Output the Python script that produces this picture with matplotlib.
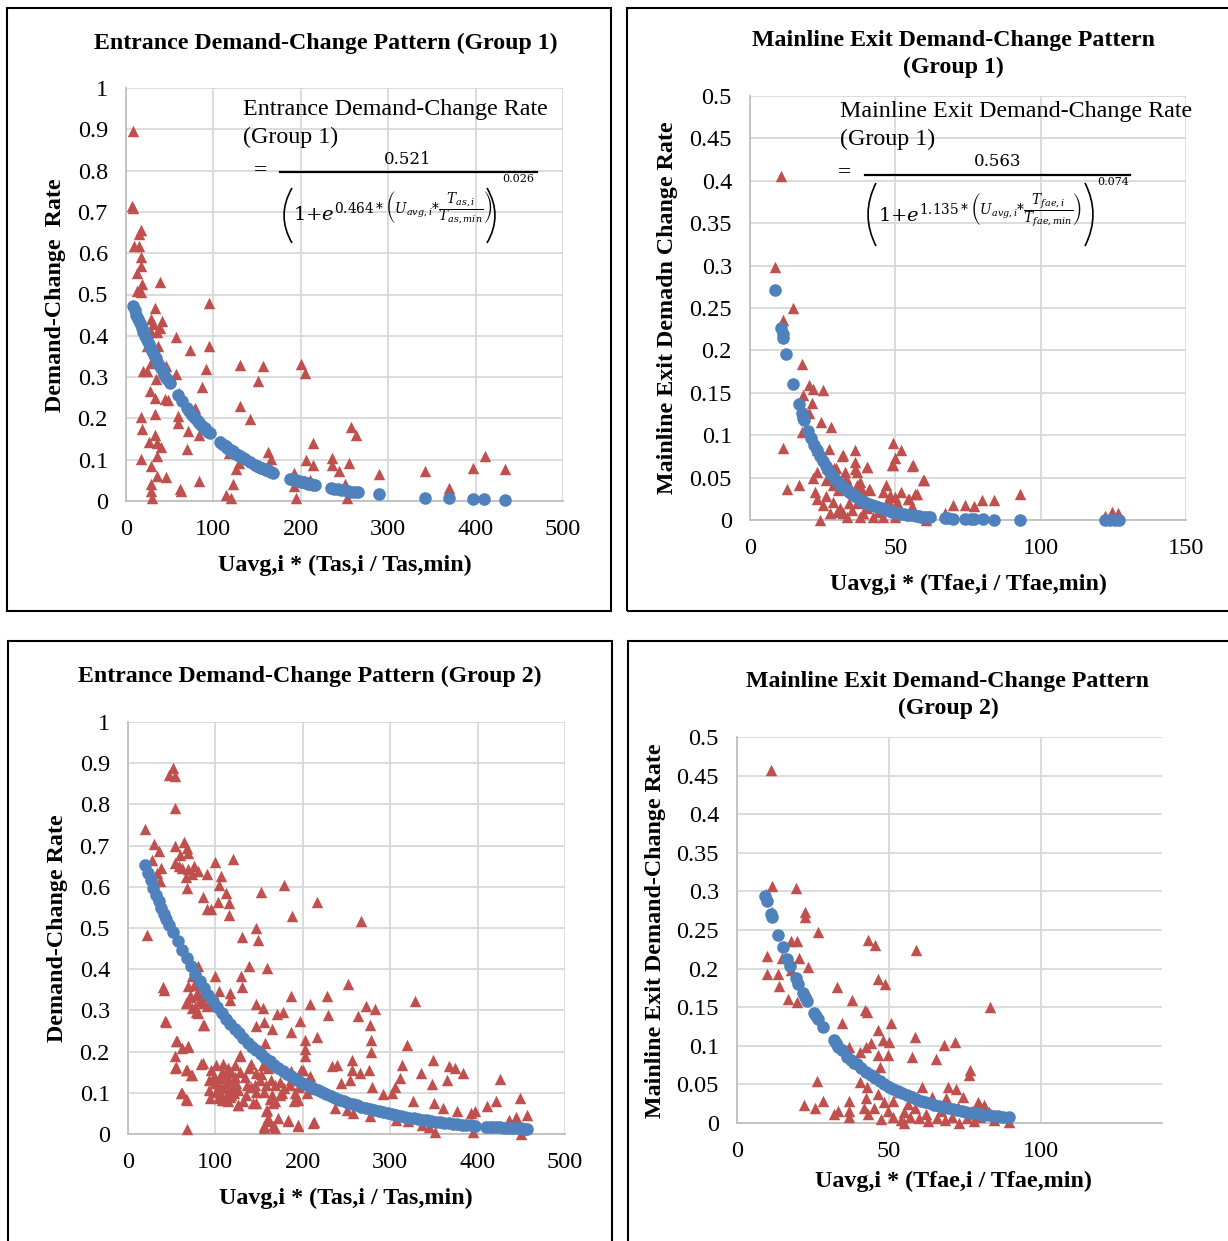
import matplotlib
matplotlib.use('Agg')
import matplotlib.pyplot as plt
from matplotlib.patches import Rectangle, PathPatch
from matplotlib.path import Path
from matplotlib.lines import Line2D

plt.rcParams['font.family'] = ['Liberation Serif', 'DejaVu Serif']
plt.rcParams['mathtext.fontset'] = 'dejavuserif'

# ---------------- DATA ----------------
ent_ticks = [0, 0.1, 0.2, 0.3, 0.4, 0.5, 0.6, 0.7, 0.8, 0.9, 1]
ent_tick_labels = ['0', '0.1', '0.2', '0.3', '0.4', '0.5', '0.6', '0.7', '0.8', '0.9', '1']
ent_xticks = [0, 100, 200, 300, 400, 500]
ext_ticks = [0, 0.05, 0.1, 0.15, 0.2, 0.25, 0.3, 0.35, 0.4, 0.45, 0.5]
ext_tick_labels = ['0', '0.05', '0.1', '0.15', '0.2', '0.25', '0.3', '0.35', '0.4', '0.45', '0.5']
ext1_xticks = [0, 50, 100, 150]
ext2_xticks = [0, 50, 100]

# Entrance, Group 1 -- observed (triangles)
ent1_obs = [(8, 0.897), (6.6, 0.715), (8.5, 0.71), (17.5, 0.657), (15, 0.646), (9.6, 0.618), (15, 0.618),
            (16.6, 0.59), (16.6, 0.57), (13, 0.553), (18.4, 0.525), (13, 0.509), (16.6, 0.505), (39.4, 0.531),
            (33, 0.468), (41.6, 0.436), (28.5, 0.44), (30.6, 0.428), (28.5, 0.41), (35, 0.41), (39, 0.418),
            (24, 0.375), (37, 0.375), (57, 0.396), (95.5, 0.48), (95.5, 0.375), (73.5, 0.366), (24, 0.315),
            (19.7, 0.315), (28.5, 0.335), (46, 0.327), (57, 0.307), (34, 0.295), (92, 0.32), (131, 0.329),
            (157, 0.326), (151, 0.29), (200.5, 0.331), (205, 0.309), (27, 0.267), (33, 0.25), (45, 0.246),
            (48.2, 0.245), (61, 0.262), (86.7, 0.275), (78.8, 0.226), (130.5, 0.229), (16.6, 0.204), (33, 0.21),
            (59, 0.207), (59, 0.19), (142, 0.198), (18.4, 0.174), (71, 0.17), (83, 0.159), (33, 0.159), (35, 0.14),
            (40, 0.13), (26, 0.143), (70, 0.127), (35, 0.109), (17.5, 0.101), (28.5, 0.085), (108.6, 0.145),
            (118, 0.117), (162, 0.119), (166, 0.101), (126, 0.077), (129, 0.093), (206, 0.099), (214.5, 0.141),
            (214.5, 0.086), (236, 0.103), (236, 0.086), (244, 0.073), (255, 0.093), (258, 0.18), (263.6, 0.159),
            (192, 0.069), (192, 0.036), (289, 0.065), (342, 0.073), (369, 0.032), (397.5, 0.081), (410.7, 0.109),
            (434, 0.077), (35, 0.06), (46, 0.057), (83, 0.048), (28.5, 0.04), (28.5, 0.024), (29.5, 0.008),
            (62, 0.028), (63, 0.024), (114, 0.014), (120.4, 0.008), (122.6, 0.04), (195, 0.008), (210, 0.05),
            (250, 0.04), (253, 0.008)]
# Entrance, Group 1 -- predicted (circles)
ent1_pred = [(8, 0.473), (10, 0.462), (12, 0.451), (14, 0.44), (16, 0.43), (18, 0.419), (20, 0.409), (22, 0.4),
             (24, 0.39), (26, 0.381), (28, 0.372), (30, 0.363), (32, 0.354), (34, 0.346), (36, 0.337), (38, 0.329),
             (40, 0.322), (42, 0.314), (44, 0.306), (46, 0.299), (48, 0.292), (50, 0.285), (59, 0.256), (64, 0.241),
             (70, 0.224), (72, 0.219), (74, 0.213), (76, 0.208), (78, 0.203), (80, 0.198), (82, 0.194), (84, 0.189),
             (86, 0.185), (88, 0.18), (90, 0.176), (92, 0.172), (94, 0.168), (96, 0.164), (108, 0.142), (110, 0.139),
             (112, 0.135), (114, 0.132), (116, 0.129), (118, 0.125), (120, 0.122), (122, 0.12), (124, 0.117),
             (126, 0.114), (128, 0.111), (130, 0.108), (132, 0.106), (134, 0.103), (136, 0.101), (142, 0.094),
             (148, 0.087), (150, 0.085), (152, 0.083), (154, 0.081), (156, 0.079), (158, 0.077), (160, 0.076),
             (162, 0.074), (164, 0.072), (166, 0.07), (168, 0.069), (188, 0.054), (190, 0.053), (192, 0.051),
             (194, 0.05), (196, 0.049), (198, 0.048), (200, 0.047), (202, 0.046), (204, 0.045), (206, 0.043),
             (208, 0.042), (210, 0.041), (212, 0.04), (214, 0.039), (216, 0.038), (234, 0.031), (238, 0.03),
             (242, 0.028), (246, 0.027), (250, 0.026), (254, 0.024), (258, 0.023), (262, 0.022), (266, 0.021),
             (289, 0.016), (342, 0.0084), (369, 0.0061), (397, 0.0043), (410, 0.0037), (434, 0.0028)]

# Mainline exit, Group 1
ext1_obs = [(10.8, 0.406), (8.6, 0.298), (14.9, 0.25), (11.5, 0.236), (17.9, 0.184), (11.2, 0.085), (12.6, 0.037),
            (16.9, 0.041), (20.4, 0.159), (21.8, 0.155), (25.2, 0.153), (18.3, 0.147), (21.2, 0.138), (20.4, 0.126),
            (24.3, 0.116), (27.9, 0.11), (17.8, 0.104), (27.2, 0.084), (36.1, 0.082), (31.9, 0.077), (49.3, 0.091),
            (51.8, 0.082), (49.9, 0.073), (49.3, 0.065), (55.8, 0.064), (36.1, 0.068), (40.1, 0.062), (29.6, 0.061),
            (32.7, 0.057), (36.7, 0.057), (21.8, 0.049), (26.1, 0.047), (22.4, 0.033), (22.9, 0.025), (25, 0.018),
            (24.1, 0.0), (27.5, 0.008), (28.7, 0.021), (31, 0.014), (33.3, 0.004), (35, 0.012), (36.7, 0.02),
            (38.4, 0.035), (36.7, 0.041), (40.1, 0.014), (41.3, 0.035), (42.4, 0.004), (37.8, 0.004), (34.4, 0.039),
            (30.4, 0.035), (28.7, 0.041), (46.8, 0.041), (45.6, 0.033), (48.2, 0.029), (49.9, 0.027), (50.5, 0.021),
            (54.5, 0.025), (57.3, 0.031), (59.6, 0.047), (55.6, 0.016), (47, 0.012), (45.9, 0.004), (49.9, 0.004),
            (59.6, 0.004), (22.9, 0.057), (26.4, 0.063), (23, 0.082), (31.6, 0.076), (29, 0.061), (40.8, 0.037),
            (47.5, 0.024), (52, 0.033), (56.7, 0.031), (54.7, 0.025), (60.6, 0.0), (60, 0.047), (56, 0.065),
            (49, 0.065), (40.2, 0.063), (36, 0.06), (33, 0.05), (38, 0.045), (30, 0.01), (32, 0.008), (34, 0.02),
            (39, 0.008), (43, 0.018), (44, 0.01), (26, 0.028), (38, 0.028), (67, 0.008), (70, 0.018), (74, 0.018),
            (77, 0.016), (79.7, 0.024), (84, 0.024), (93, 0.031), (122, 0.005), (124.5, 0.009), (126.5, 0.008),
            (125, 0.003)]
ext1_pred = [(8.6, 0.271), (10.8, 0.227), (11.2, 0.219), (11.5, 0.215), (12.5, 0.196), (14.9, 0.16), (16.9, 0.137),
             (17.8, 0.126), (18.1, 0.123), (18.4, 0.12), (18.6, 0.118), (20, 0.105), (21, 0.097), (22, 0.089),
             (23, 0.082), (24, 0.076), (25, 0.07), (26, 0.064), (27, 0.059), (28, 0.054), (29, 0.05), (30, 0.046),
             (31, 0.042), (32, 0.039), (33, 0.036), (34, 0.033), (35, 0.031), (36, 0.028), (37, 0.026), (38, 0.024),
             (39, 0.022), (40, 0.0205), (41, 0.019), (42, 0.0175), (43, 0.016), (44, 0.015), (45, 0.0138),
             (46, 0.0125), (47, 0.0115), (48, 0.0106), (49, 0.0098), (50, 0.009), (51, 0.0083), (52, 0.0076),
             (53, 0.007), (54, 0.0064), (55, 0.0058), (56, 0.0054), (57, 0.0049), (58, 0.0045), (59, 0.0041),
             (60, 0.0038), (61, 0.0034), (62, 0.0031), (67, 0.002), (68, 0.0019), (70, 0.0016), (74, 0.0011),
             (76, 0.001), (77, 0.0009), (80, 0.0007), (84, 0.0005), (93, 0.0002), (122, 0.0), (124, 0.0),
             (125.5, 0.0), (127, 0.0)]

# Entrance, Group 2
ent2_obs = [(51.2, 0.888), (46.8, 0.872), (53.4, 0.868), (53.4, 0.791), (19.7, 0.74), (21.9, 0.482), (30.2, 0.704),
            (35.9, 0.686), (27.1, 0.664), (32.8, 0.633), (36.5, 0.613), (38.3, 0.646), (53.4, 0.7), (60, 0.676),
            (64.4, 0.708), (68, 0.694), (68.6, 0.682), (53.4, 0.658), (57.8, 0.65), (62.2, 0.646), (68.6, 0.642),
            (73, 0.632), (79.7, 0.638), (66.6, 0.625), (67.9, 0.597), (75.3, 0.65), (90.6, 0.63), (99.4, 0.66),
            (106, 0.627), (103.8, 0.605), (112.5, 0.585), (116, 0.561), (102.9, 0.562), (90.6, 0.547), (95, 0.545),
            (85.4, 0.575), (116, 0.532), (120, 0.667), (152, 0.587), (179, 0.605), (188, 0.53), (216.7, 0.563),
            (267, 0.516), (130, 0.478), (146.7, 0.499), (149, 0.47), (138, 0.407), (159, 0.403), (251.8, 0.365),
            (328, 0.322), (41, 0.35), (43.3, 0.271), (79.7, 0.407), (73, 0.384), (68.7, 0.36), (75, 0.362),
            (81.9, 0.362), (70.9, 0.336), (78.8, 0.342), (84.5, 0.334), (66.6, 0.318), (73, 0.306), (77.5, 0.295),
            (81.9, 0.322), (90.6, 0.31), (97, 0.314), (86.2, 0.265), (99.4, 0.383), (104.6, 0.346), (116.9, 0.342),
            (116.9, 0.326), (129, 0.383), (131, 0.357), (146.7, 0.316), (154, 0.306), (146.7, 0.263), (155.5, 0.273),
            (164.2, 0.255), (170.3, 0.292), (176.9, 0.296), (187, 0.334), (187, 0.247), (197, 0.275), (208, 0.316),
            (227.7, 0.334), (228.5, 0.29), (263.6, 0.287), (272.3, 0.311), (282.4, 0.303), (276.8, 0.265),
            (203, 0.227), (216.7, 0.235), (156.3, 0.221), (202.2, 0.206), (202.2, 0.189), (278, 0.227), (278, 0.2),
            (319, 0.217), (55.6, 0.225), (53.4, 0.19), (68.7, 0.211), (62.2, 0.209), (54.7, 0.162), (67.9, 0.155),
            (73, 0.142), (85.4, 0.172), (62.2, 0.1), (67.9, 0.083), (67.9, 0.011), (127.8, 0.19), (187, 0.154),
            (200, 0.156), (232.9, 0.164), (238.6, 0.168), (256, 0.179), (256, 0.155), (275.8, 0.156), (243.8, 0.124),
            (254, 0.132), (265.7, 0.148), (279, 0.114), (292, 0.097), (301.7, 0.1), (305, 0.114), (311.7, 0.136),
            (314, 0.168), (335.8, 0.148), (349, 0.18), (348, 0.122), (364.8, 0.132), (367, 0.164), (374, 0.16),
            (383, 0.148), (425.6, 0.133), (326, 0.079), (350, 0.075), (360, 0.063), (376.5, 0.055), (391.9, 0.051),
            (397, 0.057), (411, 0.067), (421, 0.079), (435.6, 0.033), (444.4, 0.041), (448.8, 0.087), (456, 0.047),
            (450, 0.001), (395, 0.004), (351, 0.004), (307, 0.035), (320.5, 0.031), (336, 0.023), (344.8, 0.017),
            (213, 0.028), (194.8, 0.023), (182.6, 0.033), (171.6, 0.039), (166, 0.02), (155.5, 0.02), (160.7, 0.039),
            (158.5, 0.059), (166, 0.075), (165, 0.095), (143, 0.075), (125.7, 0.071), (237, 0.063), (250, 0.059),
            (257, 0.051), (276.8, 0.043), (292, 0.057), (94.1, 0.087), (108, 0.083), (114.7, 0.079), (121, 0.1),
            (95, 0.155), (101, 0.167), (109, 0.17), (114, 0.159), (122, 0.167), (128, 0.192), (93, 0.131), (99, 0.123),
            (105, 0.135), (111, 0.143), (116, 0.131), (122, 0.139), (93, 0.107), (101, 0.103), (109, 0.111),
            (114, 0.103), (120, 0.115), (126, 0.107), (111, 0.083), (103, 0.087), (126, 0.07), (133.5, 0.139),
            (141, 0.171), (141, 0.115), (147, 0.147), (151, 0.131), (154.5, 0.167), (156, 0.103), (160, 0.159),
            (164, 0.131), (168, 0.119), (173.5, 0.127), (179, 0.111), (187, 0.131), (191, 0.099), (194.5, 0.083),
            (198, 0.155), (200, 0.123), (135, 0.095), (147, 0.075), (158, 0.055), (160, 0.031), (156, 0.015),
            (168, 0.015), (183, 0.031), (194.5, 0.019), (212, 0.027), (147, 0.103), (131.6, 0.079), (168, 0.079),
            (173.5, 0.095), (145, 0.119), (72.5, 0.333), (80, 0.337), (68.6, 0.317), (76.3, 0.309), (80, 0.293),
            (85.8, 0.317), (87, 0.265), (55.3, 0.225), (68.6, 0.214), (53.4, 0.161), (66.7, 0.155), (72.5, 0.143),
            (84, 0.171), (61, 0.099), (66.7, 0.085), (40, 0.356), (42.7, 0.275), (104, 0.12), (118, 0.095),
            (124, 0.125), (107, 0.15), (112, 0.125), (118, 0.15), (98, 0.14), (106, 0.095), (117, 0.09), (128, 0.15),
            (136, 0.12), (139, 0.16), (152, 0.145), (158, 0.12), (162, 0.085), (176, 0.1), (185, 0.12), (190, 0.08),
            (205, 0.1), (208, 0.14), (196, 0.115), (212, 0.11)]
ent2_pred = [(20, 0.652), (23, 0.634), (26, 0.616), (29, 0.598), (32, 0.581), (35, 0.565), (38, 0.549), (41, 0.534),
             (44, 0.521), (47, 0.508), (52, 0.49), (57, 0.468), (62, 0.447), (67, 0.426), (72, 0.407), (77, 0.388),
             (82, 0.371), (87, 0.354), (92, 0.338), (97, 0.322), (102, 0.308), (107, 0.294), (112, 0.28),
             (117, 0.268), (122, 0.256), (127, 0.244), (132, 0.233), (137, 0.222), (142, 0.212), (147, 0.203),
             (152, 0.193), (157, 0.185), (162, 0.176), (167, 0.168), (172, 0.161), (177, 0.153), (182, 0.146),
             (187, 0.14), (192, 0.133), (197, 0.127), (202, 0.122), (207, 0.116), (212, 0.111), (217, 0.106),
             (222, 0.101), (227, 0.0963), (232, 0.0919), (237, 0.0877), (242, 0.0837), (247, 0.0799), (252, 0.0763),
             (257, 0.0728), (262, 0.0695), (267, 0.0664), (272, 0.0634), (277, 0.0605), (282, 0.0577), (287, 0.0551),
             (292, 0.0526), (297, 0.0502), (302, 0.0479), (307, 0.0457), (312, 0.0437), (317, 0.0417), (322, 0.0398),
             (327, 0.038), (332, 0.0363), (337, 0.0346), (342, 0.033), (347, 0.0315), (352, 0.0301), (357, 0.0287),
             (362, 0.0274), (367, 0.0262), (372, 0.025), (377, 0.0239), (382, 0.0228), (387, 0.0218), (392, 0.0208),
             (397, 0.0198), (410, 0.018), (414, 0.0175), (418, 0.017), (422, 0.0167), (426, 0.016), (430, 0.0157),
             (434, 0.015), (438, 0.0147), (442, 0.0142), (446, 0.014), (450, 0.0135), (454, 0.013), (456, 0.013)]

# Mainline exit, Group 2
ext2_obs = [(11.2, 0.457), (11.4, 0.307), (19.5, 0.304), (9.6, 0.297), (22.3, 0.273), (22.3, 0.267), (26.8, 0.248),
            (11.4, 0.273), (17.7, 0.236), (19.9, 0.236), (43.3, 0.237), (45.6, 0.231), (59.1, 0.224), (9.8, 0.216),
            (14.7, 0.214), (20.5, 0.214), (23.3, 0.202), (9.9, 0.193), (13.6, 0.193), (17.7, 0.198), (13.8, 0.178),
            (32.9, 0.176), (46.6, 0.186), (48.8, 0.18), (16.9, 0.161), (19.7, 0.157), (37.9, 0.159), (42, 0.146),
            (42.9, 0.144), (83.4, 0.15), (34.5, 0.129), (50.6, 0.129), (46.4, 0.12), (48.1, 0.108), (50, 0.105),
            (58.5, 0.112), (68.2, 0.101), (71.8, 0.105), (36.9, 0.099), (40.5, 0.092), (42.4, 0.099), (44.2, 0.103),
            (46.6, 0.088), (49.9, 0.088), (57.5, 0.085), (65.4, 0.083), (47.2, 0.073), (76.9, 0.069), (76.4, 0.062),
            (26.3, 0.055), (40.5, 0.053), (42.9, 0.047), (60.9, 0.047), (69.4, 0.047), (72.1, 0.044), (22.1, 0.023),
            (25.6, 0.019), (28.4, 0.029), (32, 0.012), (33.3, 0.016), (36.9, 0.029), (36.9, 0.016), (36.9, 0.008),
            (41.7, 0.019), (43, 0.012), (42.4, 0.032), (46.6, 0.038), (48.4, 0.027), (49.6, 0.016), (51.5, 0.008),
            (53.9, 0.0035), (55, 0.014), (56.3, 0.025), (58.7, 0.019), (60, 0.006), (62.4, 0.012), (66, 0.006),
            (67.2, 0.016), (69, 0.032), (70.9, 0.008), (72.7, 0.021), (74.5, 0.034), (75.7, 0.006), (77.5, 0.016),
            (79.4, 0.027), (81.2, 0.023), (83, 0.014), (84.8, 0.0035), (86.7, 0.008), (89.7, 0.001), (51.5, 0.029),
            (53.3, 0.04), (64.2, 0.034), (68.5, 0.0035), (45, 0.02), (47.5, 0.005), (55, 0.0), (57, 0.008),
            (63, 0.002), (73, 0.0), (78, 0.003), (80, 0.008)]
ext2_pred = [(9.3, 0.294), (9.8, 0.288), (11.2, 0.271), (11.4, 0.267), (13.6, 0.243), (15, 0.228), (16.6, 0.213),
             (17.5, 0.204), (19.3, 0.188), (20.1, 0.18), (21.7, 0.168), (22.3, 0.163), (23, 0.158), (25.4, 0.142),
             (26, 0.138), (26.6, 0.135), (28.4, 0.125), (31.8, 0.107), (32.5, 0.103), (33.3, 0.099), (34.5, 0.094),
             (36.3, 0.085), (37.5, 0.081), (38.5, 0.078), (39.5, 0.0765), (41, 0.071), (42.5, 0.0665), (44, 0.062),
             (45.5, 0.058), (47, 0.054), (48.5, 0.0505), (50, 0.047), (51.5, 0.044), (53, 0.041), (54.5, 0.0385),
             (56, 0.036), (57.5, 0.0335), (59, 0.031), (60.5, 0.029), (62, 0.027), (63.5, 0.0253), (65, 0.0236),
             (66.5, 0.022), (68, 0.0205), (69.5, 0.019), (71, 0.0178), (72.5, 0.0166), (74, 0.0155), (75.5, 0.0145),
             (77, 0.0135), (78.5, 0.0126), (80, 0.0117), (81.5, 0.011), (83, 0.0102), (84.5, 0.0095), (86, 0.0089),
             (87.5, 0.0083), (89.7, 0.0078)]

titles = ['Entrance Demand-Change Pattern (Group 1)',
          'Mainline Exit Demand-Change Pattern\n(Group 1)',
          'Entrance Demand-Change Pattern (Group 2)',
          'Mainline Exit Demand-Change Pattern\n(Group 2)']
ylabels = ['Demand-Change  Rate', 'Mainline Exit Demadn Change Rate',
           'Demand-Change Rate', 'Mainline Exit Demand-Change Rate']
xlabels = ['Uavg,i * (Tas,i / Tas,min)', 'Uavg,i * (Tfae,i / Tfae,min)',
           'Uavg,i * (Tas,i / Tas,min)', 'Uavg,i * (Tfae,i / Tfae,min)']

# ---------------- FIGURE ----------------
W, H = 1228, 1241
fig = plt.figure(figsize=(W / 100, H / 100), dpi=100)
RED = '#C0504D'
BLUE = '#4F81BD'


def px_axes(l, t, r, b):
    return fig.add_axes([l / W, 1 - b / H, (r - l) / W, (b - t) / H])


def ftext(x, y, s, **kw):
    return fig.text(x / W, 1 - y / H, s, **kw)


def fline(x0, x1, y, lw=1.6):
    fig.add_artist(Line2D([x0 / W, x1 / W], [1 - y / H, 1 - y / H], transform=fig.transFigure,
                          color='black', lw=lw))


def fparen(x_end, x_mid, y0, y1, lw=1.2):
    verts = [(x_end / W, 1 - y0 / H), (x_mid / W, 1 - (y0 + y1) / 2 / H), (x_end / W, 1 - y1 / H)]
    p = Path(verts, [Path.MOVETO, Path.CURVE3, Path.CURVE3])
    fig.add_artist(PathPatch(p, transform=fig.transFigure, fill=False, edgecolor='black', lw=lw))


# panel borders
for (l, t, r, b) in [(7, 8, 611, 611), (627, 8, 1240, 611), (8, 641, 612, 1250), (628, 641, 1240, 1250)]:
    fig.add_artist(Rectangle((l / W, 1 - b / H), (r - l) / W, (b - t) / H, transform=fig.transFigure,
                             fill=False, edgecolor='black', lw=1.5))


def style_axes(ax, xlim, xticks, ylim, yticks, ylabs):
    ax.set_xlim(*xlim)
    ax.set_ylim(*ylim)
    ax.set_xticks(xticks)
    ax.set_xticklabels([str(v) for v in xticks])
    ax.set_yticks(yticks)
    ax.set_yticklabels(ylabs)
    ax.grid(True, color='#D9D9D9', lw=1.3)
    ax.set_axisbelow(True)
    for s in ['top', 'right']:
        ax.spines[s].set_visible(False)
    for s in ['left', 'bottom']:
        ax.spines[s].set_color('#BFBFBF')
        ax.spines[s].set_linewidth(1.3)
    ax.tick_params(length=0, labelsize=17.5)
    ax.tick_params(axis='y', pad=13)
    ax.tick_params(axis='x', pad=13)


def draw(ax, obs, pred):
    ax.scatter([p[0] for p in obs], [p[1] for p in obs], marker='^', s=68, color=RED, linewidths=0,
               clip_on=False, zorder=3)
    ax.scatter([p[0] for p in pred], [p[1] for p in pred], marker='o', s=82, color=BLUE, linewidths=0,
               clip_on=False, zorder=4)


axes_px = [(126, 88, 563, 501), (750, 96, 1186, 520), (128, 722, 565, 1134), (737, 737, 1162, 1123)]
ax1 = px_axes(*axes_px[0])
style_axes(ax1, (0, 500), ent_xticks, (0, 1), ent_ticks, ent_tick_labels)
draw(ax1, ent1_obs, ent1_pred)
ax2 = px_axes(*axes_px[1])
style_axes(ax2, (0, 150), ext1_xticks, (0, 0.5), ext_ticks, ext_tick_labels)
draw(ax2, ext1_obs, ext1_pred)
ax3 = px_axes(*axes_px[2])
style_axes(ax3, (0, 500), ent_xticks, (0, 1), ent_ticks, ent_tick_labels)
draw(ax3, ent2_obs, ent2_pred)
ax4 = px_axes(*axes_px[3])
style_axes(ax4, (0, 140), ext2_xticks, (0, 0.5), ext_ticks, ext_tick_labels)
draw(ax4, ext2_obs, ext2_pred)

# titles
tkw = dict(fontsize=17.2, fontweight='bold', ha='center', va='center', linespacing=1.3)
ftext(326, 43, titles[0], **tkw)
ftext(953, 54, titles[1], **tkw)
ftext(310, 676, titles[2], **tkw)
ftext(948, 695, titles[3], **tkw)

# axis labels
lkw = dict(fontsize=17.3, fontweight='bold', ha='center', va='center')
ftext(55, 295, ylabels[0], rotation=90, **lkw)
ftext(667, 308, ylabels[1], rotation=90, **lkw)
ftext(57, 928, ylabels[2], rotation=90, **lkw)
ftext(655, 931, ylabels[3], rotation=90, **lkw)
ftext(345, 565, xlabels[0], **lkw)
ftext(968, 584, xlabels[1], **lkw)
ftext(346, 1198, xlabels[2], **lkw)
ftext(953, 1181, xlabels[3], **lkw)

# equation annotations
ekw = dict(fontsize=17.3, ha='left', va='center')
ftext(243, 109, 'Entrance Demand-Change Rate', **ekw)
ftext(243, 137, '(Group 1)', **ekw)
ftext(254, 171, '=', fontsize=17, ha='left', va='center')
ftext(408, 160, '0.521', fontsize=12, ha='center', va='center', family='DejaVu Serif')
fline(280, 537, 172)
fparen(292, 276, 188, 243)
fparen(487, 503, 188, 243)
ftext(293, 209, r'$1{+}e^{0.464*\left(U_{avg,i}{*}\dfrac{T_{as,i}}{T_{as,min}}\right)}$',
      fontsize=14, ha='left', va='center')
ftext(518, 179, '0.026', fontsize=8, ha='center', va='center', family='DejaVu Serif')

ftext(840, 112, 'Mainline Exit Demand-Change Rate', **ekw)
ftext(840, 139, '(Group 1)', **ekw)
ftext(838, 173, '=', fontsize=17, ha='left', va='center')
ftext(998, 162, '0.563', fontsize=12, ha='center', va='center', family='DejaVu Serif')
fline(865, 1130, 175)
fparen(876, 860, 183, 246)
fparen(1085, 1101, 183, 246)
ftext(878, 211, r'$1{+}e^{1.135*\left(U_{avg,i}{*}\dfrac{T_{fae,i}}{T_{fae,min}}\right)}$',
      fontsize=14, ha='left', va='center')
ftext(1113, 182, '0.074', fontsize=8, ha='center', va='center', family='DejaVu Serif')

fig.savefig('out.png', dpi=100)
